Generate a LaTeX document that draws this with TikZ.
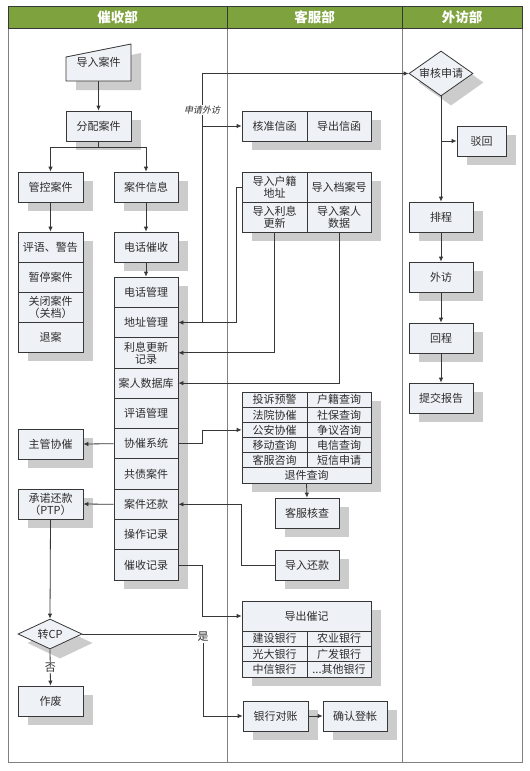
\documentclass[tikz,border=0pt]{standalone}
\usepackage{fontspec}
\setmainfont{Noto Sans CJK SC}
\newfontfamily\slfont[FakeSlant=0.2]{Noto Sans CJK SC}
\usetikzlibrary{arrows.meta,shapes.geometric,calc}
\definecolor{hdr}{RGB}{126,163,62}
\definecolor{boxfill}{RGB}{238,241,246}
\definecolor{shd}{RGB}{204,204,204}
\definecolor{edge}{RGB}{55,55,55}
\definecolor{lanec}{RGB}{128,128,128}
\definecolor{txtc}{RGB}{45,45,45}
\pgfdeclarelayer{lanes}
\pgfdeclarelayer{shadows}
\pgfsetlayers{lanes,shadows,main}
\newcommand\bxf{\fontsize{11}{12}\selectfont}
\newcommand\mkshadow[2]{\fill[shd] ([shift={(10,9)}]#1.north west) rectangle ([shift={(10,9)}]#2.south east);}
\tikzset{
  box/.style={draw=edge, fill=boxfill, line width=0.8pt, inner sep=0pt, align=center,
    text=txtc, font=\bxf, minimum width=65pt, minimum height=30pt},
  cell/.style={box, minimum height=15.2pt},
  dia/.style={diamond, draw=edge, fill=boxfill, line width=0.8pt, inner sep=0pt,
    text=txtc, font=\bxf},
  arr/.style={draw=edge, line width=0.8pt, -{Latex[length=5pt,width=4.5pt]}},
  ln/.style={draw=edge, line width=0.8pt},
  hd/.style={text=white, font=\fontsize{13.5}{14}\selectfont\bfseries},
  lbl/.style={fill=white, inner sep=1pt, text=txtc, font=\bxf},
}
\begin{document}
\begin{tikzpicture}[x=1pt,y=-1pt]
\useasboundingbox (0,0) rectangle (530,771);

% ---------- lanes ----------
\begin{pgfonlayer}{lanes}
  \fill[white] (0,0) rectangle (530,771);
  \fill[hdr] (8,6) rectangle (522,28);
  \draw[lanec, line width=1pt] (8,6) rectangle (522,762);
  \draw[lanec, line width=1pt] (227,28) -- (227,762);
  \draw[lanec, line width=1pt] (402,28) -- (402,762);
  \draw[edge, line width=1pt] (8,6) rectangle (522,28);
  \draw[edge, line width=1pt] (227,6) -- (227,28);
  \draw[edge, line width=1pt] (402,6) -- (402,28);
\end{pgfonlayer}
\node[hd] (h1) at (117.5,17) {催收部};
\node[hd] (h2) at (314.5,17) {客服部};
\node[hd] (h3) at (462,17) {外访部};

% ---------- 催收部 ----------
\filldraw[draw=edge, fill=boxfill, line width=0.8pt] (66,57) -- (131,44) -- (131,81) -- (66,81) -- cycle;
\node[inner sep=0pt, minimum width=65pt, minimum height=37pt, text=txtc, font=\bxf] (imp) at (98.5,62.5) {导入案件};
\node[box] (alloc) at (98.5,126) {分配案件};
\node[box] (guan) at (50.5,187) {管控案件};
\node[box, minimum width=64pt] (info) at (146,187) {案件信息};

\node[box] (p1) at (50.5,247) {评语、警告};
\node[box] (p2) at (50.5,277) {暂停案件};
\node[box] (p3) at (50.5,307) {关闭案件\\（关档）};
\node[box] (p4) at (50.5,337) {退案};

\node[box, minimum width=64pt] (call) at (146,247) {电话催收};

\node[box, minimum width=64pt, minimum height=30.3pt] (b0) at (146,292.2) {电话管理};
\node[box, minimum width=64pt, minimum height=30.3pt] (b1) at (146,322.5) {地址管理};
\node[box, minimum width=64pt, minimum height=30.3pt] (b2) at (146,352.8) {利息更新\\记录};
\node[box, minimum width=64pt, minimum height=30.3pt] (b3) at (146,383.1) {案人数据库};
\node[box, minimum width=64pt, minimum height=30.3pt] (b4) at (146,413.4) {评语管理};
\node[box, minimum width=64pt, minimum height=30.3pt] (b5) at (146,443.7) {协催系统};
\node[box, minimum width=64pt, minimum height=30.3pt] (b6) at (146,474.0) {共债案件};
\node[box, minimum width=64pt, minimum height=30.3pt] (b7) at (146,504.3) {案件还款};
\node[box, minimum width=64pt, minimum height=30.3pt] (b8) at (146,534.6) {操作记录};
\node[box, minimum width=64pt, minimum height=30.3pt] (b9) at (146,564.9) {催收记录};

\node[box] (zhuguan) at (50.5,444) {主管协催};
\node[box] (ptp) at (50.5,504) {承诺还款\\（PTP）};
\node[dia, minimum width=64pt, minimum height=30pt, aspect=2.13] (cp) at (50,634) {转CP};
\node[box] (zuofei) at (50.5,701) {作废};

% ---------- 客服部 ----------
\node[box] (hz) at (274.5,126) {核准信函};
\node[box, minimum width=64pt] (dc) at (339,126) {导出信函};

\node[box] (hj) at (274.5,187) {导入户籍\\地址};
\node[box, minimum width=64pt] (da) at (339,187) {导入档案号};
\node[box] (lx) at (274.5,217) {导入利息\\更新};
\node[box, minimum width=64pt] (ar) at (339,217) {导入案人\\数据};

\node[cell] (q1a) at (274.5,399.6) {投诉预警};
\node[cell, minimum width=64pt] (q1b) at (339,399.6) {户籍查询};
\node[cell] (q2a) at (274.5,414.8) {法院协催};
\node[cell, minimum width=64pt] (q2b) at (339,414.8) {社保查询};
\node[cell] (q3a) at (274.5,429.9) {公安协催};
\node[cell, minimum width=64pt] (q3b) at (339,429.9) {争议咨询};
\node[cell] (q4a) at (274.5,445.1) {移动查询};
\node[cell, minimum width=64pt] (q4b) at (339,445.1) {电信查询};
\node[cell] (q5a) at (274.5,460.2) {客服咨询};
\node[cell, minimum width=64pt] (q5b) at (339,460.2) {短信申请};
\node[cell, minimum width=129pt] (q6) at (306.5,475.4) {退件查询};

\node[box, minimum width=64pt] (kf) at (307,513) {客服核查};
\node[box, minimum width=64pt] (dr) at (307,565) {导入还款};

\node[box, minimum width=129pt] (ec) at (306.5,616) {导出催记};
\node[cell, minimum width=65pt, minimum height=15.3pt] (e1a) at (274.5,638.7) {建设银行};
\node[cell, minimum width=64pt, minimum height=15.3pt] (e1b) at (339,638.7) {农业银行};
\node[cell, minimum width=65pt, minimum height=15.3pt] (e2a) at (274.5,654) {光大银行};
\node[cell, minimum width=64pt, minimum height=15.3pt] (e2b) at (339,654) {广发银行};
\node[cell, minimum width=65pt, minimum height=15.3pt] (e3a) at (274.5,669.3) {中信银行};
\node[cell, minimum width=64pt, minimum height=15.3pt] (e3b) at (339,669.3) {...其他银行};

\node[box] (bank) at (275.5,716) {银行对账};
\node[box, minimum width=64pt] (conf) at (355,716) {确认登帐};

% ---------- 外访部 ----------
\node[dia, minimum width=64pt, minimum height=45pt, aspect=1.42] (audit) at (441,73.5) {审核申请};
\node[box, minimum width=49pt] (reject) at (481.5,141) {驳回};
\node[box, minimum width=64pt] (pc) at (441,217) {排程};
\node[box, minimum width=64pt] (wf) at (441,277) {外访};
\node[box, minimum width=64pt] (hc) at (441,338) {回程};
\node[box, minimum width=64pt] (tj) at (441,398) {提交报告};

% ---------- shadows ----------
\begin{pgfonlayer}{shadows}
  \fill[shd] (76,66) -- (141,53) -- (141,90) -- (76,90) -- cycle;
  \mkshadow{alloc}{alloc}
  \mkshadow{guan}{guan}
  \mkshadow{info}{info}
  \mkshadow{p1}{p4}
  \mkshadow{call}{call}
  \mkshadow{b0}{b9}
  \mkshadow{zhuguan}{zhuguan}
  \mkshadow{ptp}{ptp}
  \mkshadow{zuofei}{zuofei}
  \mkshadow{hz}{dc}
  \mkshadow{hj}{ar}
  \mkshadow{q1a}{q6}
  \mkshadow{kf}{kf}
  \mkshadow{dr}{dr}
  \mkshadow{ec}{e3b}
  \mkshadow{bank}{bank}
  \mkshadow{conf}{conf}
  \mkshadow{reject}{reject}
  \mkshadow{pc}{pc}
  \mkshadow{wf}{wf}
  \mkshadow{hc}{hc}
  \mkshadow{tj}{tj}
  \fill[shd] ([shift={(10,9)}]cp.north) -- ([shift={(10,9)}]cp.east) -- ([shift={(10,9)}]cp.south) -- ([shift={(10,9)}]cp.west) -- cycle;
  \fill[shd] ([shift={(10,9)}]audit.north) -- ([shift={(10,9)}]audit.east) -- ([shift={(10,9)}]audit.south) -- ([shift={(10,9)}]audit.west) -- cycle;
\end{pgfonlayer}

% ---------- connectors ----------
\coordinate (j1) at (202,322.5);
\coordinate (j2) at (202,126);
\coordinate (j3) at (203,634);
\coordinate (j4) at (441,141);

\draw[arr] (imp.south) -- (alloc.north);
\draw[arr] (alloc.south) -- ++(0,6) -| (guan.north);
\draw[arr] (alloc.south) -- ++(0,6) -| (info.north);
\draw[arr] (guan.south) -- (p1.north);
\draw[arr] (info.south) -- (call.north);
\draw[arr] (call.south) -- (b0.north);

\draw[arr] (hj.west) -- ++(-5,0) |- (b1.east);
\draw[arr] (j1) |- (audit.west);
\draw[arr] (j2) -- (hz.west);
\node[fill=white, inner sep=1pt, text=txtc, font=\slfont\fontsize{9}{10}\selectfont] (sq) at (202,110) {申请外访};
\draw[arr] (lx.south) |- (b2.east);
\draw[arr] (ar.south) |- (b3.east);

\draw[arr] (b5.east) -- ++(24,0) |- (q3a.west);
\draw[arr] (b5.west) -- (zhuguan.east);
\draw[arr] (b7.west) -- (ptp.east);
\draw[arr] (dr.west) -- ++(-33,0) |- (b7.east);
\draw[arr] (q6.south) -- (kf.north);
\draw[arr] (b9.east) -- ++(24,0) |- (ec.west);

\draw[arr] (ptp.south) -- (cp.north);
\draw[arr] (cp.south) -- node[lbl] (no) {否} (zuofei.north);
\draw[ln] (cp.east) -- (j3);
\draw[arr] (j3) |- (bank.west);
\node[lbl] (yes) at (203,637) {是};
\draw[arr] (bank.east) -- (conf.west);

\draw[arr] (audit.south) -- (pc.north);
\draw[arr] (j4) -- (reject.west);
\draw[arr] (pc.south) -- (wf.north);
\draw[arr] (wf.south) -- (hc.north);
\draw[arr] (hc.south) -- (tj.north);
\end{tikzpicture}
\end{document}
